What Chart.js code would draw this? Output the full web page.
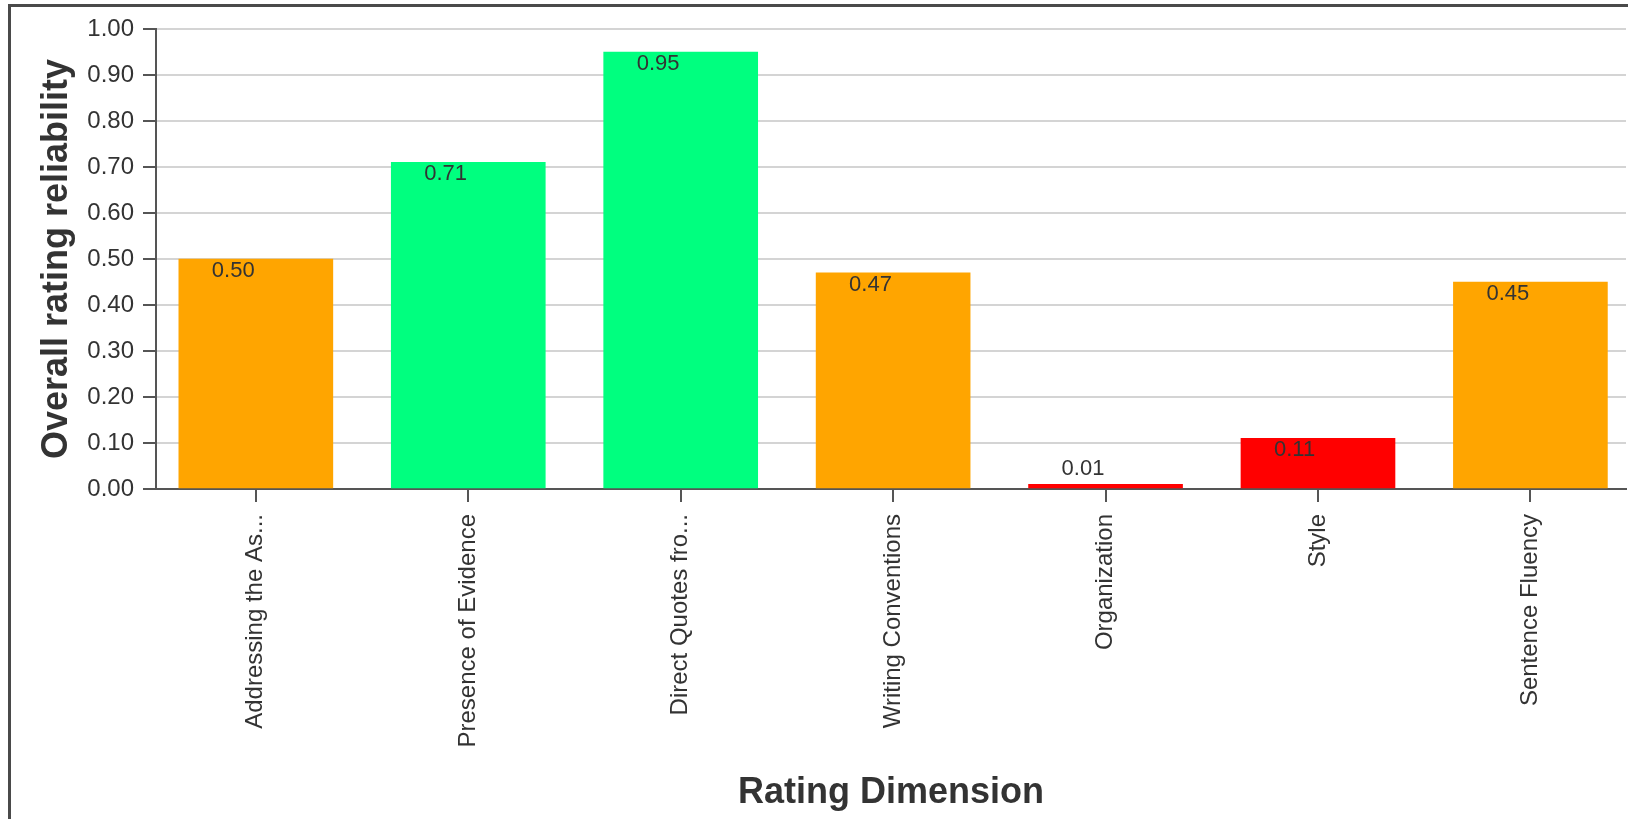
<!DOCTYPE html>
<html>
<head>
<meta charset="utf-8">
<title>Overall rating reliability by rating dimension</title>
<script src="https://cdn.jsdelivr.net/npm/chart.js@4.4.1/dist/chart.umd.min.js"></script>
<style>
  html, body { margin: 0; padding: 0; background: #fff; overflow: hidden; }
  #wrap { position: relative; width: 1628px; height: 819px; }
  #frame {
    position: absolute; left: 8px; top: 4px; width: 1700px; height: 900px;
    border-left: 3px solid #4a4a4a; border-top: 3px solid #4a4a4a;
    pointer-events: none;
  }
  canvas { position: absolute; left: 0; top: 0; }
</style>
</head>
<body>
<div id="wrap">
  <canvas id="chart" width="1628" height="819"></canvas>
  <div id="frame"></div>
</div>
<script>
// Rating dimensions and their overall reliability
const categories = [
  'Addressing the As...',
  'Presence of Evidence',
  'Direct Quotes fro...',
  'Writing Conventions',
  'Organization',
  'Style',
  'Sentence Fluency'
];
const reliability = [0.50, 0.71, 0.95, 0.47, 0.01, 0.11, 0.45];
const yTickValues = [0, 0.1, 0.2, 0.3, 0.4, 0.5, 0.6, 0.7, 0.8, 0.9, 1.0];

// Traffic-light colouring by reliability band
function colorFor(v) {
  if (v >= 0.7) return '#00FF7F';
  if (v >= 0.3) return '#FFA500';
  return '#FF0000';
}

const FONT = "'Liberation Sans', Arial, Helvetica, sans-serif";
const AXIS = '#555555';
const TEXT = '#333333';

// Writes each bar's value just inside its top edge (or above it when the bar is too short)
const valueLabels = {
  id: 'valueLabels',
  afterDatasetsDraw(chart) {
    const ctx = chart.ctx;
    const meta = chart.getDatasetMeta(0);
    const base = chart.scales.y.getPixelForValue(0);
    ctx.save();
    ctx.font = '22px ' + FONT;
    ctx.fillStyle = TEXT;
    ctx.textAlign = 'left';
    ctx.textBaseline = 'middle';
    meta.data.forEach((bar, i) => {
      const y = Math.min(bar.y + 12, base - 20);
      ctx.fillText(reliability[i].toFixed(2), bar.x - 44, y);
    });
    ctx.restore();
  }
};

new Chart(document.getElementById('chart'), {
  type: 'bar',
  data: {
    datasets: [{
      data: reliability.map((v, i) => ({ x: i, y: v })),
      backgroundColor: reliability.map(colorFor),
      borderWidth: 0,
      barThickness: 154
    }]
  },
  options: {
    responsive: false,
    animation: false,
    layout: { padding: { left: 12, top: 29, right: 2, bottom: 0 } },
    plugins: {
      legend: { display: false },
      tooltip: { enabled: false }
    },
    scales: {
      x: {
        type: 'linear',
        min: -0.47,
        max: 6.45,
        offset: false,
        afterBuildTicks: (scale) => {
          scale.ticks = categories.map((_, i) => ({ value: i }));
        },
        afterFit: (scale) => { scale.height = 330; },
        ticks: {
          autoSkip: false,
          minRotation: 90,
          maxRotation: 90,
          padding: 12,
          color: TEXT,
          font: { family: FONT, size: 24 },
          callback: (v) => categories[v]
        },
        grid: {
          offset: false,
          drawOnChartArea: false,
          drawTicks: true,
          tickLength: 13,
          color: AXIS,
          lineWidth: 2
        },
        border: { color: AXIS, width: 2 },
        title: {
          display: true,
          text: 'Rating Dimension',
          color: TEXT,
          font: { family: FONT, size: 36, weight: 'bold' },
          padding: { top: 0, bottom: 4 }
        }
      },
      y: {
        min: 0,
        max: 1,
        afterBuildTicks: (scale) => {
          scale.ticks = yTickValues.map(v => ({ value: v }));
        },
        afterFit: (scale) => { scale.width = 144; },
        ticks: {
          padding: 9,
          color: TEXT,
          font: { family: FONT, size: 24 },
          callback: (v) => Number(v).toFixed(2)
        },
        grid: {
          color: '#d4d4d4',
          lineWidth: 2,
          tickLength: 13,
          tickColor: AXIS,
          tickWidth: 2
        },
        border: { color: AXIS, width: 2 },
        title: {
          display: true,
          text: 'Overall rating reliability',
          color: TEXT,
          font: { family: FONT, size: 36, weight: 'bold' },
          padding: { top: 23, bottom: 0 }
        }
      }
    }
  },
  plugins: [valueLabels]
});
</script>
</body>
</html>
